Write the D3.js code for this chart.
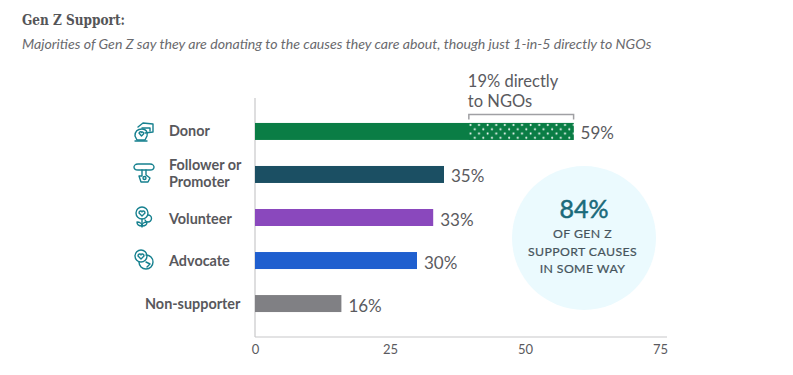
<!DOCTYPE html>
<html>
<head>
<meta charset="utf-8">
<script src="https://cdn.jsdelivr.net/npm/d3@7"></script>
<style>
  html, body { margin: 0; padding: 0; background: #fff; }
  svg { display: block; }
  text { font-family: Lato, "Open Sans", sans-serif; }
</style>
</head>
<body>
<div id="chart"></div>
<script>
const categories = ['Donor', 'Follower or Promoter', 'Volunteer', 'Advocate', 'Non-supporter'];
const values = [59, 35, 33, 30, 16];
const barColors = ['#0a7d45', '#1b4f63', '#8a48bd', '#1f5fcf', '#808084'];
// labelled 19% in the picture, the dotted part is drawn a touch wider
const directShare = 19.4;
const tickValues = [0, 25, 50, 75];
const calloutLines = ['OF GEN Z', 'SUPPORT CAUSES', 'IN SOME WAY'];

const svg = d3.select('#chart').append('svg')
  .attr('width', 793)
  .attr('height', 375);

const left = 255;
const baseline = 337;
const x = d3.scaleLinear().domain([0, 75]).range([left, 660]);
const y = d3.scaleBand().domain(categories).range([98, baseline])
  .paddingInner(0.605).paddingOuter(0.58);

// Dot pattern for the direct-to-NGO part
const pattern = svg.append('defs').append('pattern')
  .attr('id', 'dots')
  .attr('patternUnits', 'userSpaceOnUse')
  .attr('x', x(values[0] - directShare))
  .attr('y', y('Donor'))
  .attr('width', 8.6)
  .attr('height', 8.6);
pattern.append('rect').attr('width', 8.6).attr('height', 8.6).attr('fill', '#0a7d45');
[[1.6, 2], [5.9, 6.3]].forEach(d => {
  pattern.append('circle').attr('cx', d[0]).attr('cy', d[1]).attr('r', 1.05).attr('fill', '#fff');
});

// Title
svg.append('text')
  .attr('x', 22).attr('y', 25)
  .style('font-family', '"DejaVu Serif", serif')
  .style('font-weight', 700)
  .style('font-size', '14.5px')
  .attr('fill', '#555558')
  .attr('textLength', 103)
  .attr('lengthAdjust', 'spacingAndGlyphs')
  .text('Gen Z Support:');

svg.append('text')
  .attr('x', 22).attr('y', 49)
  .style('font-style', 'italic')
  .style('font-size', '14.15px')
  .attr('fill', '#6a6a6e')
  .text('Majorities of Gen Z say they are donating to the causes they care about, though just 1-in-5 directly to NGOs');

// Callout circle
const callout = svg.append('g').attr('transform', 'translate(584,238)');
callout.append('circle').attr('r', 72).attr('fill', '#ebfafe');
callout.append('text')
  .attr('text-anchor', 'middle').attr('y', -20)
  .style('font-size', '25px')
  .attr('fill', '#1a6a7a')
  .attr('stroke', '#1a6a7a')
  .attr('stroke-width', 0.5)
  .text('84%');
callout.selectAll('.line')
  .data(calloutLines)
  .join('text')
  .attr('class', 'line')
  .attr('text-anchor', 'middle')
  .attr('x', -1.5)
  .attr('y', (d, i) => 0 + i * 17.5)
  .style('font-size', '12.3px')
  .style('letter-spacing', '0.4px')
  .attr('fill', '#46545c')
  .attr('stroke', '#46545c')
  .attr('stroke-width', 0.2)
  .text(d => d);

// Axis lines
svg.append('line')
  .attr('x1', left).attr('x2', left).attr('y1', 98).attr('y2', baseline)
  .attr('stroke', '#c8c8ca').attr('stroke-width', 1.2);

const xAxis = svg.append('g')
  .attr('transform', `translate(0,${baseline})`)
  .call(d3.axisBottom(x).tickValues(tickValues).tickSize(0).tickPadding(8));
xAxis.select('.domain').attr('d', `M${left},0H667`).attr('stroke', '#c8c8ca').attr('stroke-width', 1.2);
xAxis.selectAll('text')
  .style('font-family', 'Lato, sans-serif')
  .style('font-size', '13px')
  .attr('fill', '#5a5a5e');

// Bars
svg.selectAll('.bar')
  .data(categories)
  .join('rect')
  .attr('class', 'bar')
  .attr('x', x(0))
  .attr('y', d => y(d))
  .attr('width', (d, i) => x(values[i]) - x(0))
  .attr('height', y.bandwidth())
  .attr('fill', (d, i) => barColors[i]);

svg.append('rect')
  .attr('x', x(values[0] - directShare))
  .attr('y', y('Donor'))
  .attr('width', x(values[0]) - x(values[0] - directShare))
  .attr('height', y.bandwidth())
  .attr('fill', 'url(#dots)');

// Value labels
svg.selectAll('.value')
  .data(categories)
  .join('text')
  .attr('class', 'value')
  .attr('x', (d, i) => x(values[i]) + 7)
  .attr('y', d => y(d) + y.bandwidth() / 2 + 8)
  .style('font-size', '17px')
  .attr('fill', '#5a5a5e')
  .text((d, i) => values[i] + '%');

// Bracket and note over the dotted part
const bx0 = x(values[0] - directShare);
const bx1 = x(values[0]);
svg.append('path')
  .attr('d', `M${bx0},119.5V114.5H${bx1}V119.5`)
  .attr('fill', 'none')
  .attr('stroke', '#a0a0a4')
  .attr('stroke-width', 1.5);
['19% directly', 'to NGOs'].forEach((t, i) => {
  svg.append('text')
    .attr('x', bx0 - 1).attr('y', 87 + i * 20)
    .style('font-size', '16.5px')
    .attr('fill', '#5a5a5e')
    .text(t);
});

// Category labels
const labelLines = [['Donor'], ['Follower or', 'Promoter'], ['Volunteer'], ['Advocate'], ['Non-supporter']];
const labelNudge = [0, -1, 1.5, 0, 0];
categories.forEach((c, i) => {
  const cy = y(c) + y.bandwidth() / 2 + labelNudge[i];
  const lines = labelLines[i];
  const lx = c === 'Non-supporter' ? 145 : 169;
  lines.forEach((t, j) => {
    svg.append('text')
      .attr('x', lx)
      .attr('y', cy + 5 + (j - (lines.length - 1) / 2) * 17.5)
      .style('font-size', '14.4px')
      .style('font-weight', 700)
      .attr('fill', '#58585c')
      .text(t);
  });
});

// Icons, roughly hand drawn at 20px
const iconPaths = [
  ['M4,5 L9,1 L19,2 L19,10 L11,11', 'M8,6 H16 V9', 'M1,14 C1,8 5,7 8,7 C12,7 14,10 13,14 L11,18 H3 Z', 'M5,11 C6,9 8,10 7.5,10.5 C8,9.5 10,10 9.5,12 L7.5,14 Z', 'M1,19 H13'],
  ['M4,1 H16 C19,1 20,3 20,4 C20,6 18,7 16,7 H4 C2,7 0,6 0,4 C0,3 1,1 4,1 Z', 'M8,7 V13 L5,13 L7,19 H14 L16,15 L12,12 V7', 'M9,15 a1.5,1.5 0 1 0 3,0 a1.5,1.5 0 1 0 -3,0'],
  ['M2,6 a6,6 0 1 0 12,0 a6,6 0 1 0 -12,0', 'M5,6 C5,3.5 8,3.5 8,5 C8,3.5 11,3.5 11,6 L8,9 Z', 'M14,8 a3.5,3.5 0 1 1 0,7 a3.5,3.5 0 0 1 -3,-2', 'M8,12 V20', 'M3,15 C6,15 8,17 8,19 C5,19 3,18 3,15 Z', 'M13,15 C10,15 8,17 8,19 C11,19 13,18 13,15 Z'],
  ['M1,6 a6,6 0 1 0 12,0 a6,6 0 1 0 -12,0', 'M4,6 C4,3.5 7,3.5 7,5 C7,3.5 10,3.5 10,6 L7,9 Z', 'M12,5 C16,5 19,8 19,12 C19,16 16,19 12,19 C8,19 5,16 5,12', 'M12,12 L16,14 L13,17'],
];
const iconTops = [122, 163, 207, 250];
iconPaths.forEach((paths, i) => {
  const g = svg.append('g')
    .attr('transform', `translate(134,${iconTops[i]})`)
    .attr('fill', 'none')
    .attr('stroke', '#16808f')
    .attr('stroke-width', 1.4)
    .attr('stroke-linejoin', 'round')
    .attr('stroke-linecap', 'round');
  paths.forEach(p => g.append('path').attr('d', p));
});
</script>
</body>
</html>
